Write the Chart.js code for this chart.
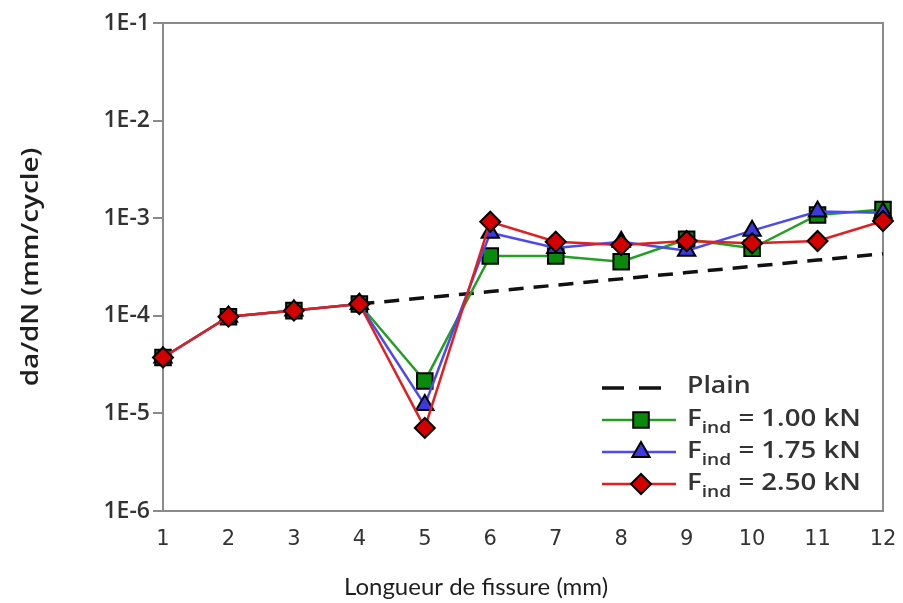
<!DOCTYPE html>
<html><head><meta charset="utf-8">
<script src="https://cdn.jsdelivr.net/npm/chart.js@4.4.0/dist/chart.umd.min.js"></script>
<style>html,body{margin:0;padding:0;background:#fff}#wrap{width:903px;height:603px;position:relative}canvas{display:block}</style>
</head><body><div id="wrap"><canvas id="c" width="903" height="603"></canvas></div>
<script>
const crackLength = [1,2,3,4,5,6,7,8,9,10,11,12];
const plain   = [null,null,null,1.32e-4,1.53e-4,1.77e-4,2.06e-4,2.39e-4,2.77e-4,3.21e-4,3.72e-4,4.32e-4];
const find100 = [3.74e-5,9.8e-5,1.13e-4,1.32e-4,2.15e-5,4.1e-4,4.1e-4,3.58e-4,6.08e-4,4.92e-4,1.08e-3,1.23e-3];
const find175 = [3.74e-5,9.8e-5,1.13e-4,1.32e-4,1.22e-5,7.1e-4,4.95e-4,5.74e-4,4.65e-4,7.45e-4,1.17e-3,1.14e-3];
const find250 = [3.74e-5,9.8e-5,1.13e-4,1.32e-4,7.1e-6,9.2e-4,5.74e-4,5.31e-4,5.84e-4,5.53e-4,5.84e-4,9.36e-4];
const yTicks = [1e-6,1e-5,1e-4,1e-3,1e-2,1e-1];
const seriesNames = ['Plain', '1.00 kN', '1.75 kN', '2.50 kN'];
const xTitle = 'Longueur de fissure (mm)';
const yTitle = 'da/dN (mm/cycle)';

const toXY = arr => arr.map((v, i) => ({x: crackLength[i], y: v}));

function stretchedText(ctx, text, x, y, sx) {
  ctx.save();
  ctx.translate(x, y);
  ctx.scale(sx, 1);
  ctx.fillText(text, 0, 0);
  const w = ctx.measureText(text).width * sx;
  ctx.restore();
  return w;
}

const frameAndText = {
  id: 'frameAndText',
  beforeDatasetsDraw(chart) {
    const {ctx, chartArea: a} = chart;
    ctx.save();
    ctx.strokeStyle = '#8a8a8a';
    ctx.lineWidth = 2;
    ctx.strokeRect(a.left, a.top, a.right - a.left, a.bottom - a.top);
    ctx.restore();
  },
  afterDraw(chart) {
    const {ctx} = chart;
    ctx.save();
    ctx.fillStyle = '#1e1e1e';
    ctx.textAlign = 'center';
    ctx.textBaseline = 'middle';
    ctx.font = '24px Lato';
    ctx.fillText(xTitle, 476, 587);
    ctx.translate(31, 267);
    ctx.rotate(-Math.PI / 2);
    ctx.scale(1.16, 1);
    ctx.font = '600 24px "Open Sans"';
    ctx.fillText(yTitle, 0, 0);
    ctx.restore();

    const ds = chart.data.datasets;
    const order = [3, 2, 1, 0];
    const ys = [388, 420, 452, 484];
    const sx = 1.2;
    ctx.save();
    order.forEach((di, k) => {
      const d = ds[di];
      const y = ys[k];
      ctx.strokeStyle = d.borderColor;
      ctx.lineWidth = d.borderWidth;
      ctx.beginPath();
      if (d.borderDash) { ctx.setLineDash([22, 15]); ctx.moveTo(602, y); ctx.lineTo(662, y); }
      else { ctx.moveTo(602, y); ctx.lineTo(676, y); }
      ctx.stroke();
      ctx.setLineDash([]);
      if (d.pointStyle && d.pointRadius > 0) {
        ctx.fillStyle = d.pointBackgroundColor;
        ctx.strokeStyle = d.pointBorderColor;
        ctx.lineWidth = d.pointBorderWidth;
        Chart.helpers.drawPoint(ctx, {pointStyle: d.pointStyle, rotation: 0, radius: d.pointRadius, borderWidth: d.pointBorderWidth}, 641, y);
      }
      ctx.fillStyle = '#333';
      ctx.textBaseline = 'middle';
      ctx.textAlign = 'left';
      ctx.font = '600 23px "Open Sans"';
      if (di === 3) {
        stretchedText(ctx, seriesNames[0], 687, y - 2, 1.16);
      } else {
        let x = 687;
        x += stretchedText(ctx, 'F', x, y - 1, sx);
        ctx.font = '600 16px "Open Sans"';
        x += stretchedText(ctx, 'ind', x, y + 8, sx);
        ctx.font = '600 23px "Open Sans"';
        stretchedText(ctx, ' = ' + seriesNames[3 - di], x, y - 1, sx);
      }
    });
    ctx.restore();
  }
};

const mk = (data, line, fill, style, r) => ({
  data: toXY(data), borderColor: line, borderWidth: 2.5, backgroundColor: fill,
  pointStyle: style, pointRadius: r, pointBackgroundColor: fill, pointBorderColor: '#000',
  pointBorderWidth: 2, tension: 0, clip: false, spanGaps: false
});

const dsRed = mk(find250, '#e02020', '#d40000', 'rectRot', 10); dsRed.order = 0;
const dsBlue = mk(find175, '#4a4af0', '#3a3ae0', 'triangle', 10); dsBlue.order = 1;
const dsGreen = mk(find100, '#22a022', '#0a8a0a', 'rect', 11); dsGreen.order = 2;
const dsPlain = {data: toXY(plain), borderColor: '#111', borderWidth: 3.5, borderDash: [15, 10],
  pointRadius: 0, pointStyle: false, tension: 0, clip: false, order: 3};

new Chart(document.getElementById('c'), {
  type: 'line',
  data: {datasets: [dsRed, dsBlue, dsGreen, dsPlain]},
  options: {
    responsive: false, animation: false, devicePixelRatio: 1,
    layout: {padding: {top: 23, right: 20, left: 0, bottom: 0}},
    plugins: {legend: {display: false}, tooltip: {enabled: false}},
    scales: {
      x: {
        type: 'linear', min: 1, max: 12,
        afterFit(s) { s.height = 92; s.paddingLeft = 0; s.paddingRight = 0; },
        grid: {display: false, drawTicks: false},
        border: {display: false},
        ticks: {stepSize: 1, padding: 16, autoSkip: false, maxRotation: 0, minRotation: 0,
          color: '#333', font: {family: 'DejaVu Sans', size: 21}}
      },
      y: {
        type: 'logarithmic', min: 1e-6, max: 1e-1,
        afterFit(s) { s.width = 163; s.paddingTop = 0; s.paddingBottom = 0; },
        afterBuildTicks(s) { s.ticks = yTicks.map(v => ({value: v})); },
        grid: {drawOnChartArea: false, tickLength: 10, color: '#8a8a8a', lineWidth: 2},
        border: {display: false},
        ticks: {padding: 3, color: '#333', font: {family: 'Open Sans', size: 23, weight: '600'},
          callback: v => '1E' + Math.round(Math.log10(v))}
      }
    }
  },
  plugins: [frameAndText]
});
</script>
</body></html>
